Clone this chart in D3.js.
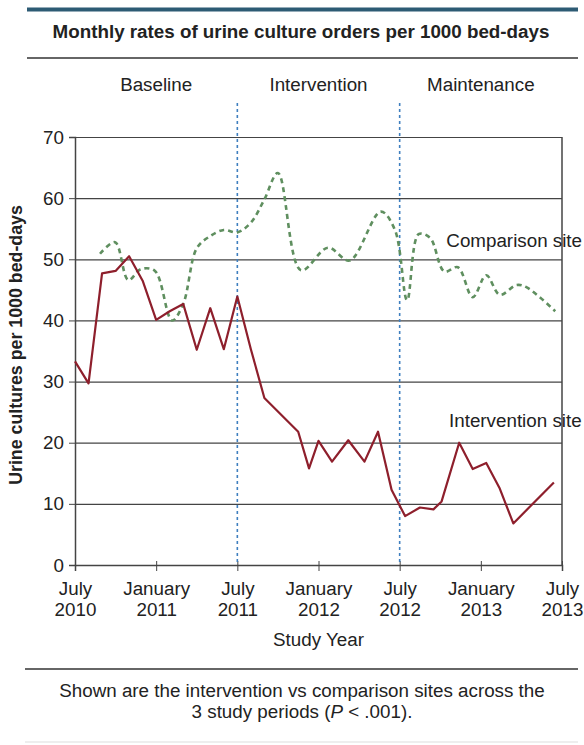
<!DOCTYPE html>
<html>
<head>
<meta charset="utf-8">
<script src="https://cdn.jsdelivr.net/npm/d3@7"></script>
<style>
    body { margin: 0; background: #fff; }
    text { font-family: "Liberation Sans", Arial, sans-serif; fill: #222; }
</style>
</head>
<body>
<div id="chart"></div>
<script>
// months counted from July 2010
const interventionMonths = [0, 1, 2, 3, 4, 5, 6, 7, 8, 9, 10, 11, 12, 13, 14, 16.5, 17.3, 18, 19, 20.2, 21.4, 22.4, 23.4, 24.4, 25.5, 26.5, 27.1, 28.4, 29.4, 30.4, 31.4, 32.4, 35.4];
const interventionRates = [33.3, 29.7, 47.7, 48.1, 50.5, 46.5, 40.1, 41.5, 42.7, 35.2, 42.0, 35.3, 43.9, 35.3, 27.3, 21.8, 15.8, 20.3, 16.9, 20.4, 16.9, 21.8, 12.3, 8.0, 9.4, 9.1, 10.4, 20.0, 15.7, 16.7, 12.5, 6.8, 13.5];

const comparisonMonths = [1.85, 2.96, 3.94, 4.88, 5.91, 7.17, 8, 9, 10, 11, 12, 13, 14, 15, 16.7, 18.7, 20.3, 22.6, 23.65, 24.55, 25.4, 26.25, 27.3, 28.3, 29.4, 30.4, 31.4, 32.65, 33.4, 35.5];
const comparisonRates = [50.9, 52.8, 46.6, 48.4, 48.1, 40.0, 42.7, 51.8, 53.8, 54.8, 54.4, 56.0, 59.8, 64.1, 48.2, 51.9, 49.8, 57.8, 54.8, 43.3, 54.1, 53.5, 48.0, 48.7, 43.8, 47.4, 44.2, 45.8, 45.4, 41.5];

const xTickMonths = [0, 6, 12, 18, 24, 30, 36];
const xTickLabels = [["July", "2010"], ["January", "2011"], ["July", "2011"], ["January", "2012"], ["July", "2012"], ["January", "2013"], ["July", "2013"]];
const yTicks = [0, 10, 20, 30, 40, 50, 60, 70];

const periodNames = ["Baseline", "Intervention", "Maintenance"];
const periodBounds = [0, 12, 24, 36];

const W = 584, H = 745;
const fs = "18.8px";
let margin = {top: 137, right: 22, bottom: 180, left: 75},
    width = W - margin.left - margin.right,
    height = H - margin.top - margin.bottom;

let svg0 = d3.select("#chart")
    .append("svg")
    .attr("width", W)
    .attr("height", H);

svg0.append("rect").attr("width", W).attr("height", H).attr("fill", "#fff");

// header rules and title
svg0.append("line")
    .attr("x1", 27).attr("x2", 578).attr("y1", 9.5).attr("y2", 9.5)
    .attr("stroke", "#2d5b74").attr("stroke-width", 4);
svg0.append("text")
    .attr("x", 301).attr("y", 38)
    .attr("text-anchor", "middle")
    .style("font-size", fs).style("font-weight", "bold")
    .text("Monthly rates of urine culture orders per 1000 bed-days");
svg0.append("line")
    .attr("x1", 27).attr("x2", 578).attr("y1", 58).attr("y2", 58)
    .attr("stroke", "#666").attr("stroke-width", 2);

let svg = svg0.append("g")
    .attr("transform", `translate(${margin.left}, ${margin.top})`);

let x = d3.scaleLinear().domain([0, 36]).range([0, width]);
let y = d3.scaleLinear().domain([0, 70]).range([height, 0]);

// gridlines
svg.append("g")
    .call(d3.axisLeft(y).tickValues(yTicks).tickSize(-width).tickFormat(""))
    .call(g => g.select(".domain").remove())
    .selectAll("line").attr("stroke", "#444").attr("stroke-width", 1.2);

// y axis
svg.append("g")
    .attr("class", "yaxis")
    .call(d3.axisLeft(y).tickValues(yTicks).tickSize(6).tickPadding(5))
    .call(g => g.select(".domain").attr("stroke", "#444").attr("stroke-width", 1.5))
    .call(g => g.selectAll("text").style("font-size", fs).attr("fill", "#222"))
    .call(g => g.selectAll("line").attr("stroke", "#444"));

// right border
svg.append("line")
    .attr("x1", width).attr("x2", width).attr("y1", 0).attr("y2", height)
    .attr("stroke", "#444").attr("stroke-width", 1.5);

// x axis
let xAxis = svg.append("g")
    .attr("transform", `translate(0, ${height})`)
    .call(d3.axisBottom(x).tickValues(xTickMonths).tickSize(6).tickFormat(""))
    .call(g => g.select(".domain").attr("stroke", "#444").attr("stroke-width", 1.5))
    .call(g => g.selectAll("line").attr("stroke", "#444").attr("y1", -4));

xAxis.selectAll(".tick").each(function(d, i){
    let t = d3.select(this).append("text")
        .attr("text-anchor", "middle")
        .style("font-size", fs)
        .attr("fill", "#222");
    t.append("tspan").attr("x", 0).attr("y", 30).text(xTickLabels[i][0]);
    t.append("tspan").attr("x", 0).attr("y", 51).text(xTickLabels[i][1]);
});

// axis titles
svg.append("text")
    .attr("x", width / 2).attr("y", height + 81)
    .attr("text-anchor", "middle")
    .style("font-size", fs)
    .text("Study Year");
svg.append("text")
    .attr("transform", `translate(${-53}, ${height / 2 - 6}) rotate(-90)`)
    .attr("text-anchor", "middle")
    .style("font-size", "17.8px").style("font-weight", "bold")
    .text("Urine cultures per 1000 bed-days");

// period separators
svg.selectAll(".sep")
    .data(periodBounds.slice(1, 3))
    .join("line")
    .attr("class", "sep")
    .attr("x1", d => x(d)).attr("x2", d => x(d))
    .attr("y1", -34).attr("y2", height)
    .attr("stroke", "#3f7fbf").attr("stroke-width", 1.6)
    .attr("stroke-dasharray", "3,3");

svg.selectAll(".period")
    .data(periodNames)
    .join("text")
    .attr("class", "period")
    .attr("x", (d, i) => x((periodBounds[i] + periodBounds[i + 1]) / 2))
    .attr("y", -46)
    .attr("text-anchor", "middle")
    .style("font-size", fs)
    .text(d => d);

// lines
let compData = comparisonMonths.map((m, i) => ({m: m, v: comparisonRates[i]}));
let intData = interventionMonths.map((m, i) => ({m: m, v: interventionRates[i]}));

svg.append("path")
    .datum(compData)
    .attr("fill", "none")
    .attr("stroke", "#5f8f5f")
    .attr("stroke-width", 2.6)
    .attr("stroke-dasharray", "5,4")
    .attr("d", d3.line().x(d => x(d.m)).y(d => y(d.v)).curve(d3.curveCatmullRom.alpha(0.5)));

svg.append("path")
    .datum(intData)
    .attr("fill", "none")
    .attr("stroke", "#8e1f2c")
    .attr("stroke-width", 2.2)
    .attr("stroke-linejoin", "round")
    .attr("d", d3.line().x(d => x(d.m)).y(d => y(d.v)));

// series labels
svg.append("text")
    .attr("x", x(27.45)).attr("y", y(53) + 6)
    .style("font-size", fs)
    .text("Comparison site");
svg.append("text")
    .attr("x", x(27.65)).attr("y", y(23.5) + 6)
    .style("font-size", fs)
    .text("Intervention site");

// caption
svg0.append("line")
    .attr("x1", 25).attr("x2", 578).attr("y1", 669).attr("y2", 669)
    .attr("stroke", "#333").attr("stroke-width", 1.5);
svg0.append("text")
    .attr("x", 302).attr("y", 697)
    .attr("text-anchor", "middle")
    .style("font-size", fs)
    .text("Shown are the intervention vs comparison sites across the");
let cap = svg0.append("text")
    .attr("x", 302).attr("y", 718)
    .attr("text-anchor", "middle")
    .style("font-size", fs);
cap.append("tspan").text("3 study periods (");
cap.append("tspan").style("font-style", "italic").text("P");
cap.append("tspan").text(" < .001).");
svg0.append("line")
    .attr("x1", 25).attr("x2", 578).attr("y1", 742).attr("y2", 742)
    .attr("stroke", "#ddd").attr("stroke-width", 1);
</script>
</body>
</html>
